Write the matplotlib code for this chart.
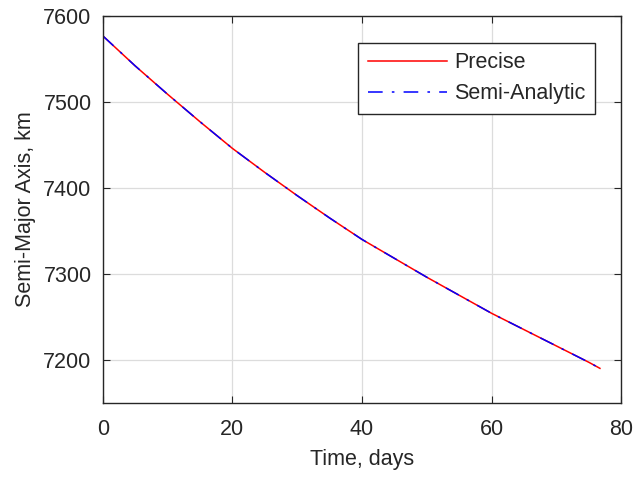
import matplotlib
matplotlib.use("Agg")
import matplotlib.pyplot as plt

# semi-major axis decay over the propagation span (km vs days)
time_days = [0, 5, 10, 15, 20, 25, 30, 35, 40, 45, 50, 55, 60, 65, 70, 75, 76.7]
sma_precise = [7577, 7542, 7509, 7477, 7446, 7418, 7391, 7365, 7340,
               7318, 7296, 7275, 7254, 7235, 7216, 7197, 7190]
sma_semi_analytic = [7577, 7542, 7509, 7477, 7446, 7418, 7391, 7365, 7340,
                     7318, 7296, 7275, 7254, 7235, 7216, 7197, 7190]

x_ticks = [0, 20, 40, 60, 80]
y_ticks = [7200, 7300, 7400, 7500, 7600]

fs = 15.5
plt.rcParams["font.family"] = ["Liberation Sans", "DejaVu Sans"]
plt.rcParams["font.size"] = fs
dark = "#262626"

fig = plt.figure(figsize=(6.34, 4.78), dpi=100)
ax = fig.add_axes([0.162, 0.1575, 0.818, 0.809])

ax.plot(time_days, sma_precise, color=(1, 0, 0), lw=1.1, label="Precise")
blue, = ax.plot(time_days, sma_semi_analytic, color=(0, 0, 1), lw=1.1,
                label="Semi-Analytic")
blue.set_dashes([9.6, 6.0, 1.7, 6.0])

ax.set_xlim(0, 80)
ax.set_ylim(7150, 7600)
ax.set_xticks(x_ticks)
ax.set_yticks(y_ticks)
ax.grid(True, color="#dcdcdc", lw=0.9)
ax.set_axisbelow(True)

for s in ax.spines.values():
    s.set_color(dark)
    s.set_linewidth(1.0)
ax.tick_params(direction="in", length=5, width=0.8, colors=dark,
               top=True, right=True, labelsize=fs)
ax.tick_params(axis="x", pad=12)
ax.tick_params(axis="y", pad=8)

ax.set_xlabel("Time, days", color=dark, fontsize=fs, labelpad=6)
ax.set_ylabel("Semi-Major Axis, km", color=dark, fontsize=fs, labelpad=5)

leg = ax.legend(loc="upper right", bbox_to_anchor=(0.949, 0.931),
                borderaxespad=0, fancybox=False, framealpha=1,
                handlelength=3.7, handletextpad=0.3, labelspacing=0.45,
                borderpad=0.45, fontsize=fs)
leg.get_frame().set_edgecolor(dark)
leg.get_frame().set_linewidth(1.0)
for t in leg.get_texts():
    t.set_color(dark)

fig.savefig("out.png", dpi=100)
